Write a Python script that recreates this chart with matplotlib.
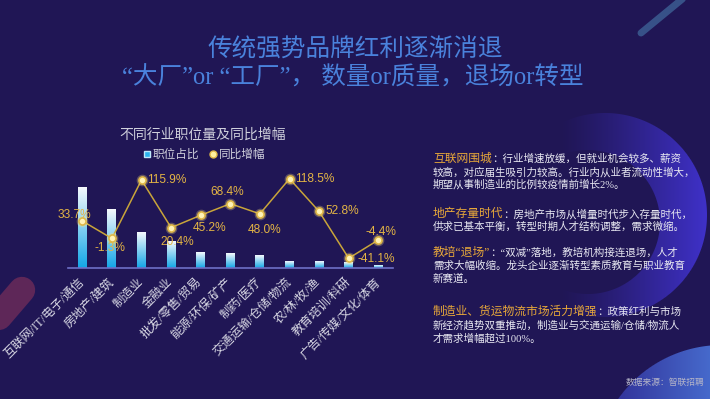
import numpy as np
import matplotlib
matplotlib.use("Agg")
import matplotlib.pyplot as plt
from matplotlib.lines import Line2D

# 数据
industries = ["互联网/IT/电子/通信", "房地产/建筑", "制造业", "金融业", "批发/零售/贸易",
              "能源/环保/矿产", "制药/医疗", "交通运输/仓储/物流", "农/林/牧/渔",
              "教育培训/科研", "广告/传媒/文化/体育"]
job_share = [24.2, 17.7, 10.8, 8.1, 4.8, 4.5, 3.8, 2.1, 2.0, 1.7, 0.7]
yoy_growth = [33.7, -1.3, 115.9, 20.4, 45.2, 68.4, 48.0, 118.5, 52.8, -41.1, -4.4]

# 标签位置 (像素偏移, 对齐)
label_offsets = [(-8, 6, "center"), (-2, -10, "center"), (6, 0, "left"), (6, -14, "center"),
                 (9, -13, "center"), (-3, 12, "center"), (5, -16, "center"), (6, 0, "left"),
                 (6, 0, "left"), (9, -1, "left"), (3, 8, "center")]

notes = [
    ("互联网围城", ["：行业增速放缓，但就业机会较多、薪资",
                "较高，对应届生吸引力较高。行业内从业者流动性增大，",
                "期望从事制造业的比例较疫情前增长2%。"]),
    ("地产存量时代", ["：房地产市场从增量时代步入存量时代，",
                  "供求已基本平衡，转型时期人才结构调整，需求微缩。"]),
    ("教培“退场”", ["：“双减”落地，教培机构接连退场，人才",
                "需求大幅收缩。龙头企业逐渐转型素质教育与职业教育",
                "新赛道。"]),
    ("制造业、货运物流市场活力增强", ["：政策红利与市场",
                          "新经济趋势双重推动，制造业与交通运输/仓储/物流人",
                          "才需求增幅超过100%。"]),
]
note_rows = [[159, 172, 184.5], [214, 227], [253, 266, 279], [312, 325, 338]]

W, H = 710, 399
BG = np.array([32, 22, 85]) / 255
CJK = ["Liberation Serif", "Noto Sans CJK SC"]
SANS = ["Liberation Sans", "Noto Sans CJK SC"]

fig = plt.figure(figsize=(W / 100, H / 100), dpi=100)
fig.patch.set_facecolor(BG)

# 背景装饰
bg = fig.add_axes([0, 0, 1, 1], zorder=-10)
yy, xx = np.mgrid[0:H, 0:W] + 0.5
img = np.empty((H, W, 3))
img[:] = BG
d_out = np.hypot(xx - 605, yy - 215)
d_in = np.hypot(xx - 588, yy - 222)
ring = np.clip(102 - d_out + 0.5, 0, 1) * np.clip(d_in - 72 + 0.5, 0, 1)
a = ring * np.clip((xx - 560) / 145, 0, 1) ** 1.2 * 0.95
ring_col = np.array([64, 50, 205]) / 255
img = img * (1 - a[..., None]) + ring_col * a[..., None]
d_c = np.hypot(xx - 722, yy - 472)
circ = np.clip(127 - d_c + 0.5, 0, 1) * 0.95
t = np.clip((xx - 620) / 90, 0, 1)[..., None]
c_col = np.array([52, 55, 160]) / 255 * (1 - t) + np.array([72, 110, 210]) / 255 * t
img = img * (1 - circ[..., None]) + c_col * circ[..., None]
bg.imshow(img, extent=[0, W, H, 0], aspect="auto")
bg.plot([641, 686], [33, -4], lw=5, color="#3c5c92", alpha=0.85, solid_capstyle="round")
bg.plot([-2, 22], [318, 290], lw=19, color="#5e2758", solid_capstyle="round")
bg.set_xlim(0, W)
bg.set_ylim(H, 0)
bg.axis("off")

# 标题
fig.text(355 / W, 1 - 50 / H, "传统强势品牌红利逐渐消退", ha="center", va="center",
         fontsize=17.7, color="#4a82dc", family=CJK)
fig.text(353 / W, 1 - 78 / H, "“大厂”or “工厂”， 数量or质量，退场or转型", ha="center",
         va="center", fontsize=17.7, color="#4a82dc", family=CJK)

# 图表
ax = fig.add_axes([67.5 / W, 1 - 267.7 / H, 325.6 / W, 99.7 / H])
ax.set_facecolor("none")
x = np.arange(len(industries))
bw = 0.3
grad = np.linspace(0, 1, 256)[:, None]
grad_rgb = (np.array([18, 166, 230]) / 255) * (1 - grad[..., None]) + (np.array([246, 249, 253]) / 255) * grad[..., None]
for xi, v in zip(x, job_share):
    ax.imshow(grad_rgb, extent=[xi - bw / 2, xi + bw / 2, 0, v], origin="lower", aspect="auto", zorder=2)
ax.set_xlim(-0.5, len(industries) - 0.5)
ax.set_ylim(0, 30)
for s in ["top", "left", "right"]:
    ax.spines[s].set_visible(False)
ax.spines["bottom"].set_color("#6e70c6")
ax.spines["bottom"].set_linewidth(1.2)
ax.set_yticks([])
ax.set_xticks(x)
ax.set_xticklabels(industries, rotation=45, ha="right", va="center", rotation_mode="anchor",
                   fontsize=8.8, color="#d8d8e4", family=CJK)
ax.tick_params(axis="x", length=0, pad=9)

ax2 = ax.twinx()
ax2.set_ylim(-60, 140)
ax2.set_yticks([])
for s in ax2.spines.values():
    s.set_visible(False)
ax2.plot(x, yoy_growth, color="#c9a53a", lw=1.1, zorder=3)
ax2.scatter(x, yoy_growth, s=70, color="#ffe680", alpha=0.3, lw=0, zorder=4)
ax2.scatter(x, yoy_growth, s=26, color="#fff3b8", edgecolors="#e0b848", linewidths=1.2, zorder=5)
for xi, v, (dx, dy, ha) in zip(x, yoy_growth, label_offsets):
    ax2.annotate(f"{v:.1f}%", (xi, v), xytext=(dx, dy), textcoords="offset pixels",
                 ha=ha, va="center", fontsize=8.6, color="#e3b445", family=SANS, zorder=6)

fig.text(202.5 / W, 1 - 135 / H, "不同行业职位量及同比增幅", ha="center", va="center",
         fontsize=10, color="#cfd0dc", family=CJK)
handles = [Line2D([], [], ls="none", marker="s", markersize=5, color="#2ab4ee", mec="#bfe8fa"),
           Line2D([], [], ls="none", marker="o", markersize=5, color="#fff0a0", mec="#e0b848")]
fig.legend(handles, ["职位占比", "同比增幅"], loc="center", bbox_to_anchor=(204 / W, 1 - 155 / H),
           ncol=2, frameon=False, handletextpad=0.1, columnspacing=0.8, handlelength=0.8,
           prop={"family": CJK, "size": 8.4}, labelcolor="#d0d0dc")

# 右侧说明
renderer = fig.canvas.get_renderer()
for (head, lines), rows in zip(notes, note_rows):
    ht = fig.text(433 / W, 1 - rows[0] / H, head, ha="left", va="center", fontsize=8.5,
                  color="#e8a83a", family=CJK)
    x1 = ht.get_window_extent(renderer).x1 / W
    fig.text(x1, 1 - rows[0] / H, lines[0], ha="left", va="center", fontsize=7.6,
             color="#e8e8f2", family=CJK)
    for ln, r in zip(lines[1:], rows[1:]):
        fig.text(433 / W, 1 - r / H, ln, ha="left", va="center", fontsize=7.6,
                 color="#e8e8f2", family=CJK)

fig.text(704 / W, 1 - 383 / H, "数据来源：智联招聘", ha="right", va="center", fontsize=6.3,
         color="#b4b4c8", family=CJK)

fig.savefig("out.png", dpi=100, facecolor=fig.get_facecolor())
